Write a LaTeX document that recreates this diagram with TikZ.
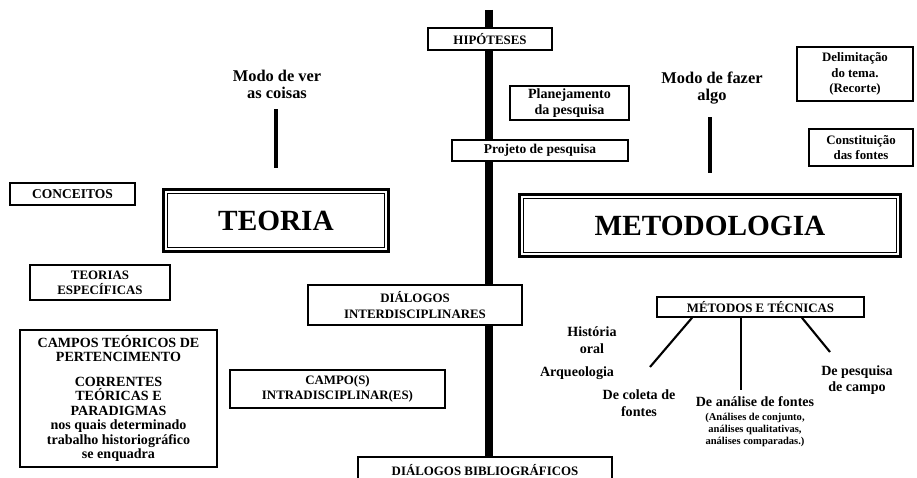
\documentclass[tikz,border=0pt]{standalone}
\usepackage{amsmath,amssymb}
\usepackage{fontspec}
\setmainfont{Liberation Serif}
\usepackage{tikz}

\tikzset{
  plainbox/.style={draw, line width=1.4pt, fill=white, align=center, inner sep=0pt,
    font=\bfseries\fontsize{11}{13}\selectfont},
  titlebox/.style={draw, line width=3pt, fill=white, inner sep=0pt,
    font=\bfseries\fontsize{25}{28}\selectfont},
  innerline/.style={line width=0.7pt},
  note/.style={align=center, inner sep=1pt, font=\bfseries\fontsize{12}{14}\selectfont},
  smallnote/.style={align=center, inner sep=1pt, font=\bfseries\fontsize{9}{10.2}\selectfont},
  spine/.style={line width=7pt},
  stem/.style={line width=3.8pt},
  twig/.style={line width=1.8pt},
}

\begin{document}
\begin{tikzpicture}[x=0.03cm, y=-0.03cm]
    \clip (0,0) rectangle (917,478);
    % Central axis, drawn first so the boxes sit on it
    \coordinate (top) at (489,10);
    \coordinate (bottom) at (489,460);
    \draw[spine] (top) -- (bottom);
    % Boxes along the axis
    \node[plainbox, minimum width=3.72cm, minimum height=0.66cm] (hipoteses) at (490,39) {HIPÓTESES};
    \node[plainbox, minimum width=3.57cm, minimum height=1.02cm, font=\bfseries\fontsize{12}{13.5}\selectfont] (planejamento) at (569.5,103) {Planejamento\\da pesquisa};
    \node[plainbox, minimum width=5.28cm, minimum height=0.63cm, font=\bfseries\fontsize{11.5}{13}\selectfont] (projeto) at (540,150.5) {Projeto de pesquisa};
    \node[plainbox, minimum width=6.42cm, minimum height=1.2cm] (interdisc) at (415,305) {DIÁLOGOS\\INTERDISCIPLINARES};
    \node[plainbox, minimum width=7.62cm, minimum height=0.78cm] (biblio) at (485,470) {DIÁLOGOS BIBLIOGRÁFICOS};
    % Left side: theory
    \node[note, font=\bfseries\fontsize{14}{14.5}\selectfont] (modover) at (277,84) {Modo de ver\\as coisas};
    \node[titlebox, minimum width=6.75cm, minimum height=1.86cm] (teoria) at (276,220.5) {TEORIA};
    \node[plainbox, minimum width=3.75cm, minimum height=0.66cm, font=\bfseries\fontsize{11.5}{13}\selectfont] (conceitos) at (72.5,194) {CONCEITOS};
    \node[plainbox, minimum width=4.2cm, minimum height=1.05cm] (teoesp) at (100,282.5) {TEORIAS\\ESPECÍFICAS};
    \node[plainbox, minimum width=5.91cm, minimum height=4.11cm, font=\bfseries\fontsize{12}{12.4}\selectfont] (campos) at (118.5,398.5)
      {CAMPOS TEÓRICOS DE\\PERTENCIMENTO\\[0.3cm]CORRENTES\\TEÓRICAS E\\PARADIGMAS\\nos quais determinado\\trabalho historiográfico\\se enquadra};
    \node[plainbox, minimum width=6.45cm, minimum height=1.14cm] (intradisc) at (337.5,389) {CAMPO(S)\\INTRADISCIPLINAR(ES)};
    \draw[stem, shorten <=0.28cm, shorten >=0.6cm] (modover.south -| teoria.north) -- (teoria.north);
    % Right side: method
    \node[note, font=\bfseries\fontsize{14}{14.5}\selectfont] (modofazer) at (712,88) {Modo de fazer\\algo};
    \node[titlebox, minimum width=11.43cm, minimum height=1.86cm] (metodologia) at (710,225.5) {METODOLOGIA};
    \node[plainbox, minimum width=3.48cm, minimum height=1.62cm] (delimitacao) at (855,74) {Delimitação\\do tema.\\(Recorte)};
    \node[plainbox, minimum width=3.12cm, minimum height=1.11cm] (constituicao) at (861,147.5) {Constituição\\das fontes};
    \draw[stem, shorten <=0.35cm, shorten >=0.6cm] (modofazer.south -| metodologia.north) -- (metodologia.north);
    % Double frames of the two main boxes
    \foreach \n in {teoria,metodologia}
      \draw[innerline] ([shift={(0.17cm,-0.17cm)}]\n.north west) rectangle ([shift={(-0.17cm,0.17cm)}]\n.south east);
    % Methods and techniques
    \node[plainbox, minimum width=6.21cm, minimum height=0.6cm] (metodos) at (760.5,307) {MÉTODOS E TÉCNICAS};
    \node[note] (historia) at (592,340) {História\\oral};
    \node[note] (arqueologia) at (577,373) {Arqueologia};
    \node[note] (coleta) at (639,403) {De coleta de\\fontes};
    \node[note] (analise) at (755,402) {De análise de fontes};
    \node[smallnote] (analisesub) at (755,430) {(Análises de conjunto,\\análises qualitativas,\\análises comparadas.)};
    \node[note] (pesquisa) at (857,380) {De pesquisa\\de campo};
    \coordinate (c1) at (650,367);
    \coordinate (c2) at (741,390);
    \coordinate (c3) at (830,352);
    \draw[twig] (metodos.south) ++(-68.5,0) -- (c1);
    \draw[twig] (c2 |- metodos.south) -- (c2);
    \draw[twig] (metodos.south) ++(41.5,0) -- (c3);
\end{tikzpicture}
\end{document}
